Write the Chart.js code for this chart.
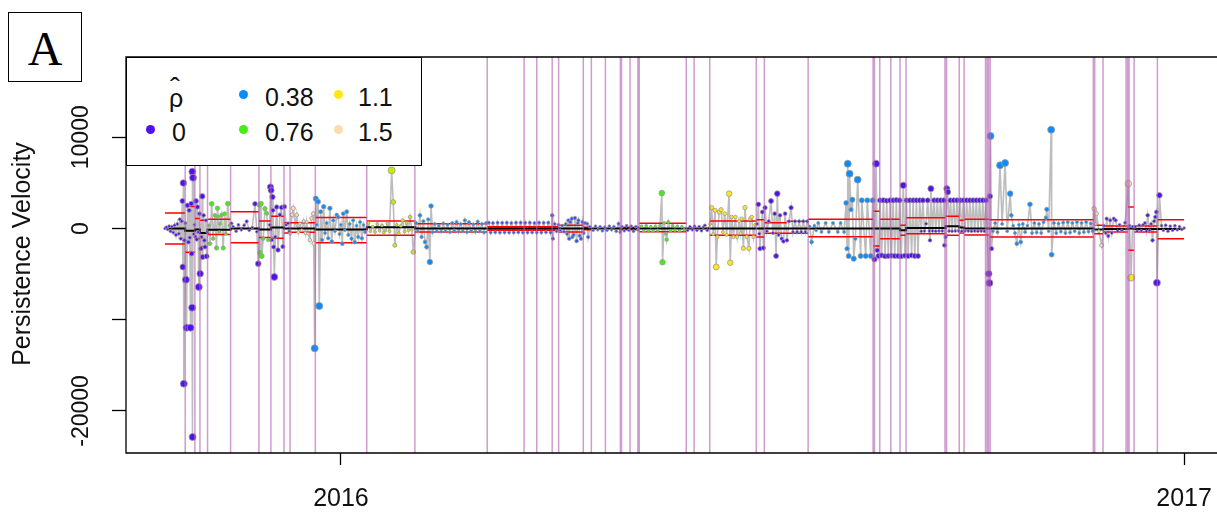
<!DOCTYPE html>
<html><head><meta charset="utf-8">
<script src="https://cdn.jsdelivr.net/npm/chart.js@4.4.1/dist/chart.umd.min.js"></script>
<style>
html,body{margin:0;padding:0;background:#fff;overflow:hidden;}
#wrap{position:relative;width:1217px;height:513px;}
canvas{position:absolute;left:0;top:0;}
.lbl{position:absolute;font-family:"Liberation Sans",Arial,sans-serif;font-size:25px;line-height:25px;color:#111;white-space:nowrap;}
.dot{position:absolute;width:9px;height:9px;border-radius:50%;}
</style></head><body>
<div id="wrap">
<canvas id="c" width="1217" height="513"></canvas>
<div style="position:absolute;left:8px;top:12px;width:74px;height:70px;border:1.5px solid #000;box-sizing:border-box;background:#fff;"></div>
<span style="position:absolute;left:8px;width:74px;top:25px;text-align:center;font-family:'Liberation Serif',serif;font-size:48px;line-height:48px;color:#000;">A</span>
<div id="legend" style="position:absolute;left:126px;top:57px;width:296px;height:109px;border:1.3px solid #000;box-sizing:border-box;background:#fff;"></div>
</div>
<script>
// ---- axes ----
const xTickValues = [0, 366];            // days since 2016-01-01
const xTickLabels = ["2016", "2017"];
const yTickValues = [-20000, -10000, 0, 10000];
const yTickLabels = ["-20000", "", "0", "10000"];
const xMin = -93.3, xMax = 378.2;
const yMin = -24608, yMax = 18798;
const yTitle = "Persistence Velocity";

// ---- legend ----
const legendTitle = "ρ";
const legendHat = "ˆ";
const legendRho = [0, 0.38, 0.76, 1.1, 1.5];
const legendText = ["0", "0.38", "0.76", "1.1", "1.5"];

// ---- change points (days since 2016-01-01) ----
const changePoints = [-67.6,-63.4,-61.2,-57.9,-47.9,-35.6,-30.4,-24.7,-22.1,-11.1,11.2,32.1,63.5,79.5,85.0,91.7,94.5,105.2,108.7,114.8,121.3,121.8,125.5,128.9,129.5,149.9,153.3,160.1,180.3,183.8,202.8,231.0,231.6,233.9,238.7,242.7,245.3,262.2,262.9,268.4,270.5,279.8,280.5,281.1,281.8,326.6,327.2,330.8,340.8,341.5,342.1,344.3,354.4];

// ---- threshold segments ----
const segStart = [-76.4,-67.6,-63.4,-61.2,-57.9,-47.9,-35.6,-30.4,-24.7,-22.1,-11.1,11.2,32.1,63.5,94.5,105.2,108.7,121.3,129.5,149.9,160.1,180.3,183.8,193.5,202.8,231.0,233.9,242.7,245.3,262.5,268.4,270.5,281.5,326.9,330.8,341.6,344.3,354.4];
const segEnd   = [-67.6,-63.4,-61.2,-57.9,-47.9,-35.6,-30.4,-24.7,-22.1,-11.1,11.2,32.1,63.5,94.5,105.2,108.7,121.3,129.5,149.9,160.1,180.3,183.8,193.5,202.8,231.0,233.9,242.7,245.3,262.5,268.4,270.5,281.5,326.9,330.8,341.6,344.3,354.4,366.0];
const upperBand = [1700,2400,1100,900,1000,1840,822,1350,640,640,1200,822,530,200,347,150,null,150,570,null,822,968,620,786,1000,1880,1005,347,1187,1334,895,1005,950,347,274,2357,274,968];
const lowerBand = [-1700,-2600,-1100,-2000,-650,-1556,-1000,-1080,-490,-420,-1550,-750,-384,-200,-384,-150,null,-150,-350,null,-750,-931,-526,-526,-900,-1918,-1114,-750,-566,-750,-500,-700,-931,-566,-384,-2393,-384,-1114];
const meanLevel = [0,-250,-100,-500,-150,0,-100,100,0,0,-100,150,0,0,0,0,0,0,0,0,0,0,0,0,0,0,0,-200,50,237,100,0,0,-100,-50,0,-50,-50];

// ---- observations [day, velocity], grouped by rho-hat ----
const rho0Points = [[-76.4,0],[-75.8,150],[-75.2,-100],[-74.6,250],[-74.0,-300],[-73.4,200],[-72.8,-450],[-72.2,350],[-71.6,-700],[-71.0,500],[-70.4,-570],[-69.9,1000],[-69.5,-1110],[-69.1,800],[-68.8,3014],[-68.6,-4220],[-68.4,4987],[-68.2,-17007],[-67.9,-1300],[-67.5,600],[-67.3,-5608],[-67.0,-10870],[-66.6,2539],[-66.2,-1500],[-65.9,1991],[-65.6,-1000],[-65.3,-10870],[-65.0,2722],[-64.8,-2758],[-64.6,-8677],[-64.5,6230],[-64.4,-22855],[-64.2,5572],[-63.9,-600],[-63.6,400],[-63.2,-900],[-62.9,3014],[-62.6,-1200],[-62.3,2357],[-62.0,-400],[-61.7,-6412],[-61.4,1626],[-61.1,-4951],[-60.8,-2210],[-60.5,-931],[-60.2,3526],[-60.0,-3124],[-59.6,1443],[-59.3,-1297],[-59.0,-2028],[-58.6,895],[-58.3,-3051],[-58.0,-384],
[-47.5,570],[-46.8,200],[-45.5,-300],[-44.5,400],[-43.3,-150],[-42.0,350],[-40.9,786],[-39.8,-200],[-38.5,100],[-37.3,2700],[-36.5,-350],
[-35.9,-3855],[-30.9,400],[-30.6,4549],[-30.3,4183],[-30.0,-1260],[-29.7,3453],[-29.5,1991],[-29.2,-2028],[-28.9,-5316],[-28.5,-931],[-27.9,2357],[-27.3,-2356],[-26.5,1500],[-25.8,2300],[-25.2,-1995],[-24.5,2390],[-23.8,400],[-23.0,570],[-22.4,-300],
[150.5,-200],[151.5,200],[152.5,-150],[153.5,250],[154.5,-200],[155.5,200],[156.5,-250],[157.3,150],[158.0,347],[159.0,-200],
[180.6,500],[181.2,2649],[181.6,-566],[181.9,-2210],[182.9,1809],[183.4,-2137],[184.1,2283],[184.9,-300],[185.7,800],[186.7,3014],[187.5,-500],[188.3,1626],[188.9,-3014],[189.4,3819],[190.0,-700],[190.6,1443],[191.3,-1114],[192.1,-1407],[192.8,1626],[193.6,-1297],[194.5,786],[195.4,2283],[196.2,-384],[197.1,786],[198.0,-384],[198.9,786],[199.8,-384],[200.7,786],[201.6,-384],[202.4,786],
[231.6,-3380],[232.3,7106],[232.8,-2393],[233.3,-3014],[234.0,3087],[234.7,-2950],[235.5,3100],[236.2,-3050],[236.9,3050],[237.6,-3014],[238.3,3087],[239.0,-2980],[239.7,3087],[240.4,-3014],[241.1,3120],[241.8,-3014],[242.5,3087],[243.2,-3050],[244.1,4732],[244.8,-2980],[245.5,3087],[246.2,-3014],[247.0,3087],[247.7,-2950],[248.4,3087],[249.1,-3014],[249.8,3087],[250.5,-3014],[251.2,3087],[251.9,-300],[252.6,3087],[253.3,-274],[254.0,530],[254.7,3087],[255.4,-274],[255.7,-1297],[256.1,4367],[256.8,-274],[257.5,3087],[258.2,-300],[258.9,3087],[259.6,-274],[260.3,3087],[261.0,-274],[261.7,3087],[262.0,-1845],[262.5,-931],[263.0,4367],[263.4,4000],[264.0,-274],[264.6,3087],[265.3,-300],[266.0,3087],[266.7,-274],[267.4,3087],[268.1,-274],[268.8,3087],[269.5,-300],[270.2,3087],[270.9,-274],[271.6,3087],[272.3,-274],[273.0,3087],[273.7,-300],[274.4,3087],[275.1,-274],[275.8,3087],[276.5,-300],[277.2,3087],[277.9,-274],[278.6,3087],[279.3,-300],[280.0,3087],
[281.2,-4950],[281.5,-5975],[281.7,3526],[282.4,-2210],
[331.2,300],[332.0,-500],[332.4,1078],[333.1,-822],[333.9,895],[334.6,-493],[335.5,1078],[336.3,895],[337.2,-300],[338.0,400],[339.0,-200],[340.4,640],
[342.3,300],[343.6,200],
[344.8,200],[345.6,-300],[346.5,350],[347.4,-250],[348.2,400],[349.0,603],[349.6,-300],[350.2,1443],[351.0,-200],[351.7,500],[352.3,-1297],[353.0,800],[353.5,1260],[354.0,1809],
[354.2,-5937],[355.3,3636],[356.2,300],[357.0,-200],[358.0,350],[359.0,-300],[360.0,250],[361.0,-200],[362.0,300],[363.0,-150],[364.0,200],[365.0,-100],[366.0,50]];

const rho02Points = [[64.2,640],[65.0,-450],[66.0,600],[67.0,-420],[68.0,640],[69.0,-450],[70.0,620],[71.0,-430],[72.0,640],[73.0,-450],[74.0,600],[75.0,-450],[76.0,640],[77.0,-420],[78.0,640],[79.0,-450],[80.0,620],[81.0,-450],[82.0,640],[83.0,-430],[84.0,600],[85.0,-450],[86.0,640],[87.0,-450],[88.0,620],[89.0,-420],[90.0,640],[91.0,-450],[91.7,1443],[92.0,-1114],[92.8,500],[93.6,-300],[94.4,400],[95.2,-200],[96.0,300],[96.8,-350],[97.6,500],[98.2,-600],[98.7,895],[99.1,-1114],[99.6,700],[100.2,1078],[100.5,-931],[101.0,-700],[101.6,1150],[102.3,-1370],[102.8,600],[103.1,895],[103.6,-800],[104.2,-1114],[104.8,700],[105.4,-500],[106.0,600],[106.9,530],[107.3,-931],[108.0,200],[109.5,-200],[110.5,250],[111.5,-150],[112.5,200],[113.5,-250],[114.5,150],[115.5,-200],[116.5,250],[117.5,-150],[118.5,200],[119.5,-300],[120.5,530],[121.2,-384],[122.0,200],[123.0,-250],[124.0,300],[125.0,-200],[126.0,250],[127.0,-300],[128.0,200],[129.0,-150]];

const rho038Points = [[-11.4,-13130],[-10.9,3270],[-10.5,400],[-9.9,2937],[-9.4,-8494],[-8.8,1840],[-8.2,-1260],[-7.5,2390],[-6.9,-500],[-6.2,600],[-5.5,-1077],[-4.8,2214],[-4.0,-1440],[-3.3,900],[-2.6,-300],[-1.8,1480],[-1.2,1260],[-0.6,-600],[0.0,400],[0.6,-1662],[1.0,1626],[1.7,-200],[2.5,1840],[3.2,-700],[3.8,500],[4.6,-1114],[5.3,895],[6.0,-1500],[6.8,300],[7.5,-931],[8.3,700],[9.1,-1077],[9.8,384],[10.5,-400],
[32.6,600],[33.4,-300],[34.3,1443],[35.0,-931],[35.8,800],[36.5,-1480],[37.2,-2028],[37.9,1000],[38.6,-3672],[39.1,2466],[39.8,-400],[40.7,500],[41.6,-300],[42.5,300],[43.5,-350],[44.4,550],[45.4,-250],[46.3,400],[47.3,-400],[48.3,600],[49.2,-200],[50.2,712],[51.1,-350],[52.0,500],[52.9,-300],[53.8,895],[54.7,-400],[55.6,700],[56.6,-250],[57.5,450],[58.4,-350],[59.4,750],[60.3,-300],[61.2,500],[62.1,-450],[63.0,600],
[203.5,200],[204.3,-1480],[205.5,300],[206.3,-200],[207.2,603],[208.6,-384],[210.4,603],[211.8,-384],[213.6,603],[215.7,-384],[216.9,603],[218.4,-384],[219.3,2795],[219.7,-2210],[220.0,7100],[220.4,-3014],[220.8,6010],[221.4,2064],[222.0,3160],[222.6,-3306],[223.3,-1114],[224.3,5353],[225.6,-3014],[226.1,3087],[227.8,-3014],[228.5,3087],[230.0,-3014],[230.8,3087],
[282.0,10140],[283.0,-300],[284.0,600],[285.0,-400],[286.1,6923],[287.0,500],[288.3,7180],[289.2,-300],[290.5,3818],[291.0,1443],[291.8,300],[292.6,-500],[293.4,-1662],[294.3,400],[295.1,-1480],[296.0,500],[297.0,-400],[298.0,300],[299.1,2649],[300.0,-500],[301.0,600],[302.0,-450],[303.0,500],[304.0,-500],[305.0,700],[306.0,1187],[306.4,2100],[307.2,-300],[308.3,10834],[308.5,-2868],[309.5,600],[310.5,-500],[311.5,550],[312.5,-350],[313.5,650],[314.5,-500],[315.5,700],[316.5,-450],[317.5,600],[318.5,-300],[319.5,700],[320.5,-500],[321.5,600],[322.5,-400],[323.5,700],[324.5,-350],[325.5,550],[326.3,-300]];

const rho076Points = [[-57.2,347],[-56.9,-1662],[-56.1,2700],[-55.5,-1114],[-54.7,1443],[-54.0,-2137],[-53.6,2214],[-53.3,1260],[-52.8,-400],[-52.5,530],[-51.8,1480],[-51.1,-2137],[-50.5,1626],[-49.9,-566],[-49.1,2722],[-48.5,300],
[-35.4,2576],[-35.2,-2649],[-34.7,2722],[-34.4,-3014],[-33.7,-1114],[-33.0,2174],[-32.2,1666],[-31.5,-1260],
[130.5,250],[131.5,-300],[132.5,300],[133.5,-250],[134.5,200],[135.5,-300],[136.5,250],[137.5,-200],[138.5,300],[139.3,3880],[139.6,-3700],[140.3,600],[141.0,-566],[141.4,-1224],[142.1,712],[143.0,-250],[144.0,300],[145.0,-200],[146.0,250],[147.0,-300],[148.0,200],[149.0,-150]];

const rho10Points = [[11.9,603],[12.8,-300],[13.8,200],[14.8,-384],[15.8,500],[16.8,-250],[17.8,350],[18.6,-450],[19.4,-200],[20.2,550],[21.1,-300],[22.0,6376],[22.7,2900],[23.4,-1845],[24.2,400],[25.1,-500],[26.0,300],[26.8,895],[27.6,-350],[28.5,600],[29.3,-200],[30.0,1260],[30.8,-150],[31.4,-2575]];

const rho11Points = [[160.3,500],[160.9,2283],[161.6,-600],[162.4,1991],[162.9,-4220],[163.4,-931],[164.2,1800],[165.0,2064],[165.8,-400],[166.6,1626],[167.4,-700],[168.5,3819],[169.0,-3745],[169.6,1260],[170.4,-931],[171.2,1260],[172.0,-931],[172.8,800],[173.5,-500],[174.0,1078],[174.7,-2174],[175.4,2283],[176.2,-931],[177.1,-2174],[177.7,1078],[178.3,1260],[179.1,-931],[179.8,400],[343.0,-5388]];

const rho15Points = [[-22.0,-566],[-21.2,1500],[-20.7,2214],[-19.8,300],[-19.2,1480],[-18.5,-400],[-17.8,530],[-17.0,-200],[-16.2,800],[-15.4,-500],[-14.9,712],[-14.2,-566],[-13.5,-1260],[-12.8,1118],[-12.0,1626],[-11.8,-1622],
[326.9,2174],[327.6,500],[328.0,1626],[329.0,-300],[330.2,-1845],[341.8,4914]];

const pointGroups = [
  {rho: 0, pts: rho0Points}, {rho: 0.2, pts: rho02Points}, {rho: 0.38, pts: rho038Points},
  {rho: 0.76, pts: rho076Points}, {rho: 1.0, pts: rho10Points}, {rho: 1.1, pts: rho11Points}, {rho: 1.5, pts: rho15Points}
];

// ---- colour scale for rho-hat ----
const paletteStops = [[0,[80,16,240]],[0.38,[10,140,255]],[0.76,[68,238,16]],[1.1,[255,230,24]],[1.5,[255,218,178]]];
function rhoColor(r){
  for (let i = 0; i < paletteStops.length - 1; i++){
    const [a, ca] = paletteStops[i], [b, cb] = paletteStops[i+1];
    if (r <= b){ const t = Math.max(0,(r-a)/(b-a)); return 'rgb(' + ca.map((c,k)=>Math.round(c+(cb[k]-c)*t)).join(',') + ')'; }
  }
  const c = paletteStops[paletteStops.length-1][1]; return 'rgb(' + c.join(',') + ')';
}

// ---- build datasets ----
const allPts = [];
pointGroups.forEach(g => g.pts.forEach(p => allPts.push({x: p[0], y: p[1], rho: g.rho})));
allPts.sort((a,b) => a.x - b.x);

const cpData = [];
changePoints.forEach(c => { cpData.push({x:c, y:yMin}, {x:c, y:yMax}, {x:c, y:null}); });
const upData = [], loData = [], meanData = [];
segStart.forEach((s,i) => {
  const e = segEnd[i];
  if (upperBand[i] !== null){ upData.push({x:s,y:upperBand[i]},{x:e,y:upperBand[i]},{x:e,y:null}); }
  if (lowerBand[i] !== null){ loData.push({x:s,y:lowerBand[i]},{x:e,y:lowerBand[i]},{x:e,y:null}); }
  meanData.push({x:s,y:meanLevel[i]},{x:e,y:meanLevel[i]});
});

// ---- legend (HTML) ----
(function(){
  const wrap = document.getElementById('wrap');
  function addText(t, left, top, size){ const s=document.createElement('span'); s.className='lbl'; s.textContent=t; s.style.left=left+'px'; s.style.top=top+'px'; if(size){s.style.fontSize=size+'px';} wrap.appendChild(s); return s; }
  function addDot(col, cx, cy){ const d=document.createElement('div'); d.className='dot'; d.style.background=col; d.style.left=(cx-4.5)+'px'; d.style.top=(cy-4.5)+'px'; wrap.appendChild(d); }
  addText(legendTitle, 169, 86);
  addText(legendHat, 170, 75, 30);
  const cells = [[150,129,172,120],[243,94,265,85],[243,129,265,120],[338,94,358,85],[338,129,358,120]];
  legendRho.forEach((r,i) => { const c = cells[i]; addDot(rhoColor(r), c[0], c[1]); addText(legendText[i], c[2], c[3]); });
})();

const framePlugin = {
  id: 'frame',
  afterDraw(chart){
    const {ctx, chartArea} = chart; const {left, top, bottom} = chartArea;
    ctx.save();
    ctx.strokeStyle = '#000'; ctx.lineWidth = 1.3;
    ctx.beginPath();
    ctx.moveTo(chart.width, top); ctx.lineTo(left, top); ctx.lineTo(left, bottom); ctx.lineTo(chart.width, bottom);
    ctx.stroke();
    const ys = chart.scales.y;
    ctx.fillStyle = '#111'; ctx.textAlign = 'center'; ctx.textBaseline = 'middle';
    ctx.font = '23px "Liberation Sans", Arial, sans-serif';
    ys.ticks.forEach((t,i) => {
      const lab = yTickLabels[yTickValues.indexOf(t.value)];
      if (!lab) return;
      ctx.save(); ctx.translate(82, ys.getPixelForValue(t.value)); ctx.rotate(-Math.PI/2); ctx.fillText(lab, 0, 0); ctx.restore();
    });
    ctx.font = '25px "Liberation Sans", Arial, sans-serif';
    ctx.save(); ctx.translate(23, 254); ctx.rotate(-Math.PI/2); ctx.fillText(yTitle, 0, 0); ctx.restore();
    ctx.restore();
  }
};

new Chart(document.getElementById('c').getContext('2d'), {
  type: 'scatter',
  data: { datasets: [
    {label:'change points', data: cpData, showLine:true, spanGaps:false, borderColor:'rgba(176,96,176,0.62)', borderWidth:1.5, pointRadius:0, order:0},
    {label:'observations', data: allPts, showLine:false, order:1,
      pointRadius: c => { const v = c.raw ? Math.abs(c.raw.y) : 0; return 1.3 + Math.min(2.2, v/2500); },
      backgroundColor: c => c.raw ? rhoColor(c.raw.rho) : '#888',
      borderColor: '#9a9a9a', borderWidth: 0.8},
    {label:'mean', data: meanData, showLine:true, borderColor:'#000', borderWidth:2, pointRadius:0, order:2},
    {label:'upper', data: upData, showLine:true, spanGaps:false, borderColor:'#ff0000', borderWidth:1.5, pointRadius:0, order:2},
    {label:'lower', data: loData, showLine:true, spanGaps:false, borderColor:'#ff0000', borderWidth:1.5, pointRadius:0, order:2},
    {label:'path', data: allPts, showLine:true, borderColor:'#bdbdbd', borderWidth:1.6, pointRadius:0, order:3}
  ]},
  options: {
    responsive:false, animation:false, devicePixelRatio:1,
    layout:{padding:{top:57, left:0, right:0, bottom:0}},
    plugins:{legend:{display:false}, tooltip:{enabled:false}},
    scales:{
      x:{type:'linear', min:xMin, max:xMax,
        afterBuildTicks: s => { s.ticks = xTickValues.map(v => ({value:v})); },
        afterFit: s => { s.height = 60; s.paddingLeft = 0; s.paddingRight = 0; },
        grid:{display:true, drawOnChartArea:false, drawTicks:true, tickLength:12, tickColor:'#000', tickWidth:1.3},
        border:{display:false},
        ticks:{autoSkip:false, maxRotation:0, minRotation:0, padding:19, color:'#111', font:{family:'"Liberation Sans", Arial, sans-serif', size:25}, callback:(v,i) => xTickLabels[i]}},
      y:{type:'linear', min:yMin, max:yMax,
        afterBuildTicks: s => { s.ticks = yTickValues.map(v => ({value:v})); },
        afterFit: s => { s.width = 126; s.paddingTop = 0; s.paddingBottom = 0; },
        grid:{display:true, drawOnChartArea:false, drawTicks:true, tickLength:14, tickColor:'#000', tickWidth:1.3},
        border:{display:false},
        ticks:{display:false}}
    }
  },
  plugins:[framePlugin]
});
</script>
</body></html>
